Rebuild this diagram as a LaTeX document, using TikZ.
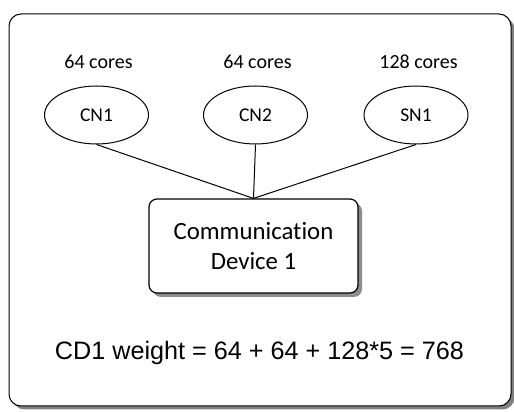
\documentclass[tikz,border=0pt]{standalone}
\usepackage{fontspec}
\setmainfont[Ligatures=NoCommon]{Carlito}
\newfontfamily\arialfont{Liberation Sans}
\usetikzlibrary{shapes.geometric,shadows}

\tikzset{
  frame/.style={draw,line width=1pt,fill=white,rounded corners=12pt,
    drop shadow={shadow xshift=3.5pt,shadow yshift=-3.5pt,fill=black!50,opacity=1}},
  cnode/.style={ellipse,draw,line width=1pt,minimum width=104pt,minimum height=58pt,
    inner sep=0pt,font=\fontsize{19.5}{22}\selectfont},
  cores/.style={font=\fontsize{20}{22}\selectfont},
  device/.style={draw,line width=1.2pt,fill=white,rounded corners=8pt,align=center,
    minimum width=209pt,minimum height=94pt,font=\fontsize{24.8}{30}\selectfont,
    drop shadow={shadow xshift=4pt,shadow yshift=-4pt,fill=black!45,opacity=1}},
  link/.style={line width=1pt}
}

\begin{document}
\begin{tikzpicture}[x=1pt,y=1pt]

\def\width{514}
\def\height{412}

\path [use as bounding box] (0,0) rectangle (\width,\height);

% FRAME
\node [frame,minimum width=502pt,minimum height=392pt] (border) at (260,202) {};

% NODES
\node [cnode] (cn1) at (96.5,297) {CN1};
\node [cnode] (cn2) at (255.5,297) {CN2};
\node [cnode] (sn1) at (416,297) {SN1};

\node [cores] (c1) at (98.5,350) {64 cores};
\node [cores] (c2) at (257.5,350) {64 cores};
\node [cores] (c3) at (418.5,350) {128 cores};

% DEVICE
\node [device] (cd1) at (253.5,166) {Communication\\Device 1};

% LINKS
\draw [link] (cn1.south) -- (cd1.north);
\draw [link] (cn2.south) -- (cd1.north);
\draw [link] (sn1.south) -- (cd1.north);

% WEIGHT
\node [anchor=base,font=\arialfont\fontsize{25.2}{30}\selectfont] (weight) at (259.5,52)
  {CD1 weight = 64 + 64 + 128*5 = 768};

\end{tikzpicture}
\end{document}
